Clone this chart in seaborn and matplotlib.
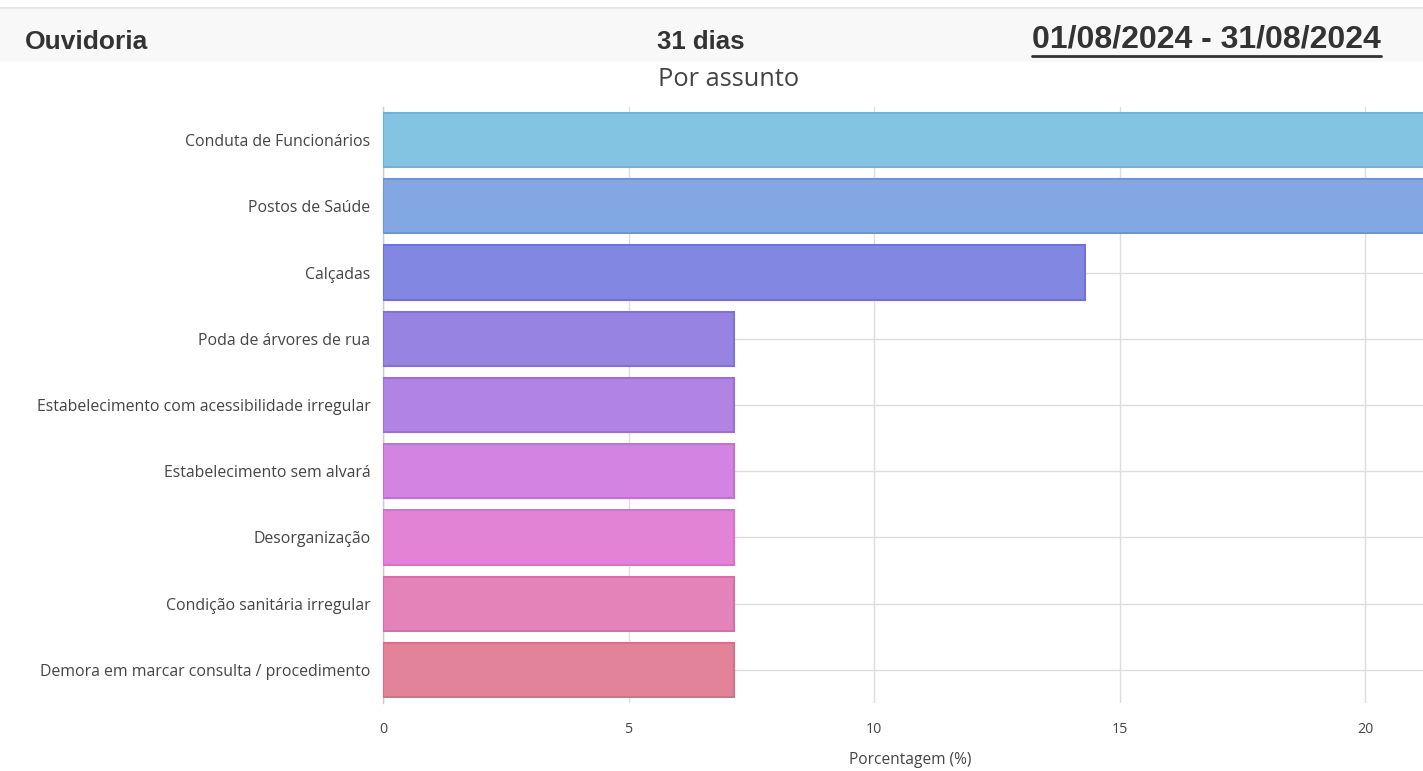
import matplotlib
matplotlib.use("Agg")
import matplotlib.pyplot as plt
import seaborn as sns
import pandas as pd
from matplotlib.lines import Line2D
from matplotlib.patches import Rectangle

categories = [
    "Conduta de Funcionários",
    "Postos de Saúde",
    "Calçadas",
    "Poda de árvores de rua",
    "Estabelecimento com acessibilidade irregular",
    "Estabelecimento sem alvará",
    "Desorganização",
    "Condição sanitária irregular",
    "Demora em marcar consulta / procedimento",
]
values = [21.43, 21.43, 14.29, 7.14, 7.14, 7.14, 7.14, 7.14, 7.14]
fill_colors = ["#82C4E2", "#82A7E2", "#8288E2", "#9783E2", "#B183E2",
               "#D383E2", "#E383D6", "#E383B9", "#E3839A"]
edge_colors = ["#6FB4D8", "#6F92D8", "#6F72D6", "#8070D8", "#9A6FD6",
               "#C26FD6", "#D86FC8", "#D66FA6", "#D66F88"]
x_ticks = [0, 5, 10, 15, 20]

title = "Por assunto"
x_label = "Porcentagem (%)"

sns.set_theme(style="white")
plt.rcParams["font.family"] = ["Open Sans", "DejaVu Sans"]

W, H = 1423, 771
fig = plt.figure(figsize=(W / 100, H / 100), dpi=100)
fig.patch.set_facecolor("white")

# header band
fig.add_artist(Rectangle((0, 1 - 62 / H), 1, 54 / H, transform=fig.transFigure,
                         facecolor="#F8F8F8", edgecolor="none", zorder=0))
fig.add_artist(Line2D([0, 1], [1 - 8 / H, 1 - 8 / H], transform=fig.transFigure,
                      color="#E6E6E6", lw=1.5))
hdr_font = ["Liberation Sans", "DejaVu Sans"]
fig.text(25 / W, 1 - 42 / H, "Ouvidoria", family=hdr_font, fontweight="bold",
         fontsize=19, color="#333333", va="center", ha="left")
fig.text(657 / W, 1 - 42 / H, "31 dias", family=hdr_font, fontweight="bold",
         fontsize=18.5, color="#333333", va="center", ha="left")
fig.text(1032 / W, 1 - 40 / H, "01/08/2024 - 31/08/2024", family=hdr_font,
         fontweight="bold", fontsize=23, color="#333333", va="center", ha="left")
fig.add_artist(Line2D([1032 / W, 1381 / W], [1 - 56 / H, 1 - 56 / H],
                      transform=fig.transFigure, color="#333333", lw=2))

fig.text(729 / W, 1 - 80 / H, title, fontsize=18.3, color="#444444",
         ha="center", va="center")

ax = fig.add_axes([383 / W, 68 / H, 1040 / W, 596 / H])
df = pd.DataFrame({"cat": categories, "val": values})
sns.barplot(data=df, x="val", y="cat", hue="cat", order=categories,
            hue_order=categories, palette=dict(zip(categories, fill_colors)),
            legend=False, width=0.82, saturation=1, ax=ax, zorder=3)
for p, ec in zip(ax.patches, edge_colors):
    p.set_edgecolor(ec)
    p.set_linewidth(1.5)

ax.set_xlim(0, 21.18)
ax.set_ylim(8.5, -0.5)
ax.set_xticks(x_ticks)
ax.set_xticklabels([str(t) for t in x_ticks])
ax.set_axisbelow(True)
ax.grid(True, axis="both", color="#DDDDDD", lw=1)
for s in ["top", "right", "bottom"]:
    ax.spines[s].set_visible(False)
ax.spines["left"].set_color("#CCCCCC")
ax.spines["left"].set_linewidth(1)
ax.tick_params(axis="y", length=0, pad=9, labelsize=11.4, labelcolor="#444444")
ax.tick_params(axis="x", length=0, pad=14, labelsize=10.3, labelcolor="#444444")
ax.set_ylabel("")
ax.set_xlabel(x_label, fontsize=11.2, color="#444444", va="center")
ax.xaxis.set_label_coords((910 - 383) / 1040, -(760 - 703) / 596)

fig.savefig("out.png", dpi=100)
